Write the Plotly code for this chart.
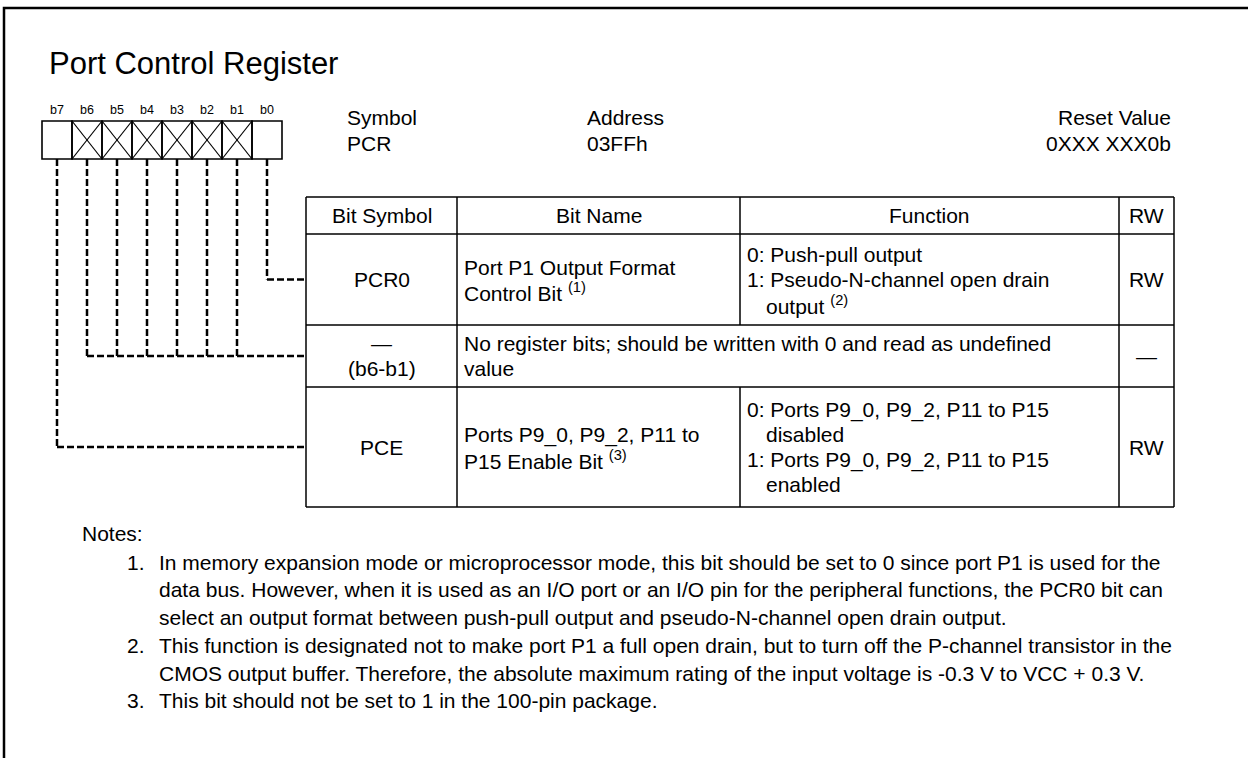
import plotly.graph_objects as go

W, H = 1248, 758
FONT = "Liberation Sans, Arial, Helvetica, sans-serif"
INK = "#000000"

# ---------------- data ----------------
title = "Port Control Register"
bit_labels = ["b7", "b6", "b5", "b4", "b3", "b2", "b1", "b0"]
crossed_bits = ["b6", "b5", "b4", "b3", "b2", "b1"]
info_labels = ["Symbol", "Address", "Reset Value"]
info_values = ["PCR", "03FFh", "0XXX XXX0b"]
headers = ["Bit Symbol", "Bit Name", "Function", "RW"]
row_bits = [["b0"], crossed_bits, ["b7"]]
row_symbols = [["PCR0"], ["—", "(b6-b1)"], ["PCE"]]
row_names = [
    ["Port P1 Output Format", "Control Bit <sup>(1)</sup>"],
    ["No register bits; should be written with 0 and read as undefined", "value"],
    ["Ports P9_0, P9_2, P11 to", "P15 Enable Bit <sup>(3)</sup>"],
]
row_functions = [
    [("0: Push-pull output", 0), ("1: Pseudo-N-channel open drain", 0), ("output <sup>(2)</sup>", 1)],
    [],
    [("0: Ports P9_0, P9_2, P11 to P15", 0), ("disabled", 1),
     ("1: Ports P9_0, P9_2, P11 to P15", 0), ("enabled", 1)],
]
row_rw = ["RW", "—", "RW"]
notes_title = "Notes:"
notes = [
    ["In memory expansion mode or microprocessor mode, this bit should be set to 0 since port P1 is used for the",
     "data bus. However, when it is used as an I/O port or an I/O pin for the peripheral functions, the PCR0 bit can",
     "select an output format between push-pull output and pseudo-N-channel open drain output."],
    ["This function is designated not to make port P1 a full open drain, but to turn off the P-channel transistor in the",
     "CMOS output buffer. Therefore, the absolute maximum rating of the input voltage is -0.3 V to VCC + 0.3 V."],
    ["This bit should not be set to 1 in the 100-pin package."],
]

# ---------------- layout constants ----------------
BOX_X0, CELL_W, BOX_Y0, BOX_Y1 = 42, 30, 121, 159
COLS = [306, 457, 740, 1119, 1174]
ROWS = [197, 234, 325, 387, 507]
PAD = 5
INDENT = 19
LINE_T = 25
LINE_N = 27.75
TFS = 21  # table font size
NFS = 21  # notes font size
DASH = "7px,3px"

shapes = []
ann = []


def text(x, y, s, size=TFS, xanchor="left"):
    ann.append(dict(x=x, y=y, xref="x", yref="y", text=s, showarrow=False,
                    xanchor=xanchor, yanchor="middle",
                    font=dict(family=FONT, size=size, color=INK)))


def line(x0, y0, x1, y1, width=1.5, dash=None):
    d = dict(type="line", x0=x0, y0=y0, x1=x1, y1=y1, xref="x", yref="y",
             line=dict(color=INK, width=width))
    if dash:
        d["line"]["dash"] = dash
    shapes.append(d)


# outer frame (extends past the right and bottom edges)
shapes.append(dict(type="rect", x0=4, y0=8, x1=W + 50, y1=H + 50, xref="x", yref="y",
                   line=dict(color=INK, width=2.5)))

# title
text(47, 63, title, size=31)

# bit boxes
cx = {}
for i, b in enumerate(bit_labels):
    x0 = BOX_X0 + i * CELL_W
    x1 = x0 + CELL_W
    cx[b] = (x0 + x1) / 2
    shapes.append(dict(type="rect", x0=x0, y0=BOX_Y0, x1=x1, y1=BOX_Y1, xref="x", yref="y",
                       line=dict(color=INK, width=1.6)))
    text(cx[b], 110, b, size=12.5, xanchor="center")
    if b in crossed_bits:
        line(x0, BOX_Y0, x1, BOX_Y1, width=1.2)
        line(x0, BOX_Y1, x1, BOX_Y0, width=1.2)

# symbol / address / reset value
info_x = [(345, "left"), (585, "left"), (1173, "right")]
for (x, anc), lab, val in zip(info_x, info_labels, info_values):
    text(x, 117, lab, xanchor=anc)
    text(x, 143, val, xanchor=anc)

# table grid
XL, XR = COLS[0], COLS[-1]
for y in ROWS:
    line(XL, y, XR, y)
for x in (COLS[0], COLS[1], COLS[3], COLS[4]):
    line(x, ROWS[0], x, ROWS[-1])
line(COLS[2], ROWS[0], COLS[2], ROWS[2])
line(COLS[2], ROWS[3], COLS[2], ROWS[4])

# header
for i, h in enumerate(headers):
    text((COLS[i] + COLS[i + 1]) / 2, (ROWS[0] + ROWS[1]) / 2, h, xanchor="center")

# rows
for r in range(3):
    y0, y1 = ROWS[r + 1], ROWS[r + 2]
    yc = (y0 + y1) / 2
    sym = row_symbols[r]
    for k, s in enumerate(sym):
        text((COLS[0] + COLS[1]) / 2, yc + (k - (len(sym) - 1) / 2) * LINE_T, s, xanchor="center")
    nm = row_names[r]
    for k, s in enumerate(nm):
        text(COLS[1] + PAD, yc + (k - (len(nm) - 1) / 2) * LINE_T, s)
    fn = row_functions[r]
    for k, (s, ind) in enumerate(fn):
        text(COLS[2] + PAD + ind * INDENT, yc + (k - (len(fn) - 1) / 2) * LINE_T, s)
    text((COLS[3] + COLS[4]) / 2, yc, row_rw[r], xanchor="center")
    # dashed connectors
    xs = [cx[b] for b in row_bits[r]]
    for x in xs:
        line(x, BOX_Y1, x, yc, width=2.5, dash=DASH)
    line(min(xs), yc, XL, yc, width=2.5, dash=DASH)

# notes
text(80, 533, notes_title, size=NFS)
y = 562
for n, para in enumerate(notes):
    text(125, y, f"{n + 1}.", size=NFS)
    for s in para:
        text(157, y, s, size=NFS)
        y += LINE_N

fig = go.Figure()
fig.update_layout(
    width=W, height=H,
    margin=dict(l=0, r=0, t=0, b=0),
    paper_bgcolor="white", plot_bgcolor="white",
    xaxis=dict(range=[0, W], visible=False, fixedrange=True),
    yaxis=dict(range=[H, 0], visible=False, fixedrange=True),
    shapes=shapes, annotations=ann, showlegend=False,
)
fig.write_html(
    "out.html",
    config={"displayModeBar": False},
    post_script="document.body.style.margin='0';document.body.style.overflow='hidden';",
)
